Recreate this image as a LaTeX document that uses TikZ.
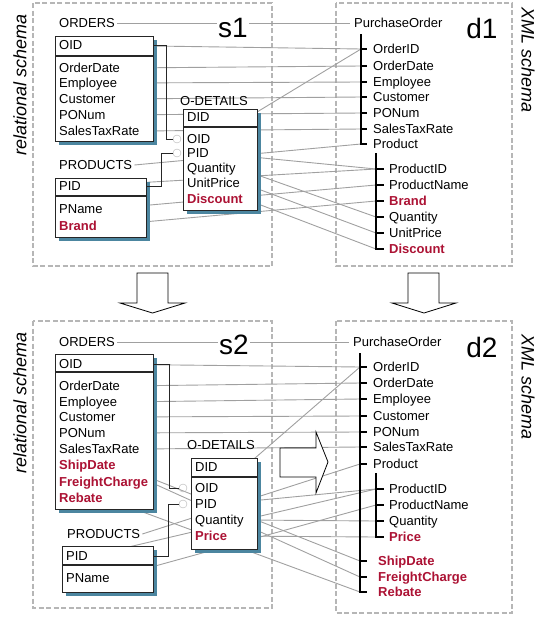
\documentclass[tikz,border=0pt]{standalone}
\usepackage{fontspec}
\setmainfont{Liberation Sans}
\usetikzlibrary{backgrounds}

\definecolor{shadowblue}{RGB}{76,134,160}
\definecolor{newred}{RGB}{172,18,52}
\definecolor{mapgray}{RGB}{160,160,160}
\definecolor{framegray}{RGB}{182,182,182}
\newcommand{\fsz}{\fontsize{13}{15}\selectfont}

\tikzset{
  fld/.style={anchor=west, inner xsep=2pt, inner ysep=1pt, text height=9.5pt, text depth=0pt, font=\fsz},
  newfld/.style={fld, font=\fsz\bfseries, text=newred},
  leaf/.style={fld, inner xsep=#1}, leaf/.default=13pt,
  newleaf/.style={newfld, inner xsep=#1}, newleaf/.default=13pt,
  tbl/.style={draw=black!85, fill=white, line width=1pt},
  tblshadow/.style={fill=shadowblue},
  divider/.style={draw=black!85, line width=1.4pt},
  map/.style={draw=mapgray, line width=0.9pt},
  fk/.style={draw=black!85, line width=0.9pt},
  fkring/.style={circle, draw=gray!60, minimum size=8pt, inner sep=0pt},
  frame/.style={draw=framegray, dash pattern=on 5pt off 2.5pt, line width=1.3pt},
  treeline/.style={line width=1.2pt},
  bigarrow/.style={draw=black, fill=white, line width=0.8pt},
  schemalbl/.style={font=\fontsize{18}{20}\selectfont\itshape},
  biglbl/.style={font=\fontsize{28}{30}\selectfont, fill=white, inner sep=1pt}
}

\begin{document}
\begin{tikzpicture}[x=1pt,y=-1pt]
  \useasboundingbox (0,0) rectangle (535,619);

  % upper half: s1 and d1
  \node[schemalbl, rotate=90] (rel1) at (20,85) {relational schema};
  \node[schemalbl, rotate=-90] (xml1) at (528,60) {XML schema};
  \node[biglbl] (s1) at (233,28) {s1};
  \node[biglbl] (d1) at (482,28) {d1};

  \node[fld] (o1) at (57,23) {ORDERS};
  \coordinate (o1se) at (153,141);
  \node[fld] (o1oid) at (57,45) {OID};
  \node[fld] (o1odate) at (57,68) {OrderDate};
  \node[fld] (o1emp) at (57,83) {Employee};
  \node[fld] (o1cust) at (57,99) {Customer};
  \node[fld] (o1po) at (57,115) {PONum};
  \node[fld] (o1tax) at (57,131) {SalesTaxRate};

  \node[fld] (od1) at (178,101) {O-DETAILS};
  \node[fld] (od1did) at (185,117) {DID};
  \node[fld] (od1oid) at (185,139) {OID};
  \node[fld] (od1pid) at (185,153) {PID};
  \node[fld] (od1qty) at (185,168) {Quantity};
  \node[fld] (od1up) at (185,183) {UnitPrice};
  \node[newfld] (od1disc) at (185,199) {Discount};
  \node[fkring] (r1oid) at (177,139) {};
  \node[fkring] (r1pid) at (177,153) {};

  \node[fld] (p1) at (57,165) {PRODUCTS};
  \coordinate (p1se) at (146,237);
  \node[fld] (p1pid) at (57,186) {PID};
  \node[fld] (p1pname) at (57,209) {PName};
  \node[newfld] (p1brand) at (57,226) {Brand};

  \node[fld, inner xsep=4pt] (po1) at (350,23) {PurchaseOrder};
  \coordinate (x1top) at (361,34);
  \node[leaf=12pt] (x1oid) at (361,49) {OrderID};
  \node[leaf=12pt] (x1odate) at (361,66) {OrderDate};
  \node[leaf=12pt] (x1emp) at (361,82) {Employee};
  \node[leaf=12pt] (x1cust) at (361,97) {Customer};
  \node[leaf=12pt] (x1po) at (361,113) {PONum};
  \node[leaf=12pt] (x1tax) at (361,129) {SalesTaxRate};
  \node[leaf=12pt] (x1prod) at (361,144) {Product};
  \coordinate (x1sub) at (376,153);
  \node[leaf] (x1pid) at (376,169) {ProductID};
  \node[leaf] (x1pname) at (376,185) {ProductName};
  \node[newleaf] (x1brand) at (376,201) {Brand};
  \node[leaf] (x1qty) at (376,217) {Quantity};
  \node[leaf] (x1up) at (376,233) {UnitPrice};
  \node[newleaf] (x1disc) at (376,249) {Discount};

  % lower half: s2 and d2
  \node[schemalbl, rotate=90] (rel2) at (20,403) {relational schema};
  \node[schemalbl, rotate=-90] (xml2) at (528,387) {XML schema};
  \node[biglbl] (s2) at (234,345) {s2};
  \node[biglbl] (d2) at (482,347) {d2};

  \node[fld] (o2) at (57,342) {ORDERS};
  \coordinate (o2se) at (153,509);
  \node[fld] (o2oid) at (57,364) {OID};
  \node[fld] (o2odate) at (57,386) {OrderDate};
  \node[fld] (o2emp) at (57,402) {Employee};
  \node[fld] (o2cust) at (57,417) {Customer};
  \node[fld] (o2po) at (57,433) {PONum};
  \node[fld] (o2tax) at (57,449) {SalesTaxRate};
  \node[newfld] (o2ship) at (57,465) {ShipDate};
  \node[newfld] (o2freight) at (57,482) {FreightCharge};
  \node[newfld] (o2rebate) at (57,498) {Rebate};

  \node[fld] (od2) at (185,445) {O-DETAILS};
  \node[fld] (od2did) at (193,467) {DID};
  \node[fld] (od2oid) at (193,488) {OID};
  \node[fld] (od2pid) at (193,504) {PID};
  \node[fld] (od2qty) at (193,520) {Quantity};
  \node[newfld] (od2price) at (193,536) {Price};
  \node[fkring] (r2oid) at (183,488) {};
  \node[fkring] (r2pid) at (183,504) {};

  \node[fld] (p2) at (65,534) {PRODUCTS};
  \coordinate (p2se) at (153,592);
  \node[fld] (p2pid) at (64,556) {PID};
  \node[fld] (p2pname) at (64,578) {PName};

  \node[fld, inner xsep=4pt] (po2) at (349,342) {PurchaseOrder};
  \coordinate (x2top) at (360,353);
  \node[leaf] (x2oid) at (360,367) {OrderID};
  \node[leaf] (x2odate) at (360,383) {OrderDate};
  \node[leaf] (x2emp) at (360,399) {Employee};
  \node[leaf] (x2cust) at (360,416) {Customer};
  \node[leaf] (x2po) at (360,432) {PONum};
  \node[leaf] (x2tax) at (360,447) {SalesTaxRate};
  \node[leaf] (x2prod) at (360,464) {Product};
  \coordinate (x2sub) at (376,473);
  \node[leaf] (x2pid) at (376,489) {ProductID};
  \node[leaf] (x2pname) at (376,505) {ProductName};
  \node[leaf] (x2qty) at (376,521) {Quantity};
  \node[newleaf] (x2price) at (376,537) {Price};
  \node[newleaf=18pt] (x2ship) at (360,561) {ShipDate};
  \node[newleaf=18pt] (x2freight) at (360,577) {FreightCharge};
  \node[newleaf=18pt] (x2rebate) at (360,592) {Rebate};

  \begin{scope}[on background layer]
    \draw[frame] (33,3) rectangle (272,266);
    \draw[frame] (336,3) rectangle (512,266);
    \draw[frame] (33,321) rectangle (272,608);
    \draw[frame] (336,321) rectangle (512,613);

    % mappings s1 -> d1
    \draw[map] (o1.east) -- (po1.west);
    \draw[map] (o1oid.east) -- (x1oid.west);
    \draw[map] (o1odate.east) -- (x1odate.west);
    \draw[map] (o1emp.east) -- (x1emp.west);
    \draw[map] (o1cust.east) -- (x1cust.west);
    \draw[map] (o1po.east) -- (x1po.west);
    \draw[map] (o1tax.east) -- (x1tax.west);
    \draw[map] (od1oid.east) -- (x1oid.west);
    \draw[map] (p1.east) -- (x1prod.west);
    \draw[map] (od1pid.east) -- (x1pid.west);
    \draw[map] (p1pid.east) -- (x1pid.west);
    \draw[map] (p1pname.east) -- (x1pname.west);
    \draw[map] (p1brand.east) -- (x1brand.west);
    \draw[map] (od1qty.east) -- (x1qty.west);
    \draw[map] (od1up.east) -- (x1up.west);
    \draw[map] (od1disc.east) -- (x1disc.west);

    % mappings s2 -> d2
    \draw[map] (o2.east) -- (po2.west);
    \draw[map] (o2oid.east) -- (x2oid.west);
    \draw[map] (o2odate.east) -- (x2odate.west);
    \draw[map] (o2emp.east) -- (x2emp.west);
    \draw[map] (o2cust.east) -- (x2cust.west);
    \draw[map] (o2po.east) -- (x2po.west);
    \draw[map] (o2tax.east) -- (x2tax.west);
    \draw[map] (od2oid.east) -- (x2oid.west);
    \draw[map] (p2.east) -- (x2prod.west);
    \draw[map] (od2pid.east) -- (x2pid.west);
    \draw[map] (p2pid.east) -- (x2pid.west);
    \draw[map] (p2pname.east) -- (x2pname.west);
    \draw[map] (od2qty.east) -- (x2qty.west);
    \draw[map] (od2price.east) -- (x2price.west);
    \draw[map] (o2ship.east) -- (x2ship.west);
    \draw[map] (o2freight.east) -- (x2freight.west);
    \draw[map] (o2rebate.east) -- (x2rebate.west);

    % tables
    \fill[tblshadow] (59,40) rectangle (157,145);
    \draw[tbl] (55,36) rectangle (o1se);
    \draw[divider] (55,56) -- (153,56);
    \fill[tblshadow] (187,113) rectangle (261,214);
    \draw[tbl] (183,109) rectangle (257,210);
    \draw[divider] (183,127) -- (257,127);
    \fill[tblshadow] (59,182) rectangle (150,241);
    \draw[tbl] (55,178) rectangle (p1se);
    \draw[divider] (55,196) -- (146,196);

    \fill[tblshadow] (59,358) rectangle (157,513);
    \draw[tbl] (55,354) rectangle (o2se);
    \draw[divider] (55,372) -- (153,372);
    \fill[tblshadow] (195,462) rectangle (261,553);
    \draw[tbl] (191,458) rectangle (257,549);
    \draw[divider] (191,477) -- (257,477);
    \fill[tblshadow] (66,550) rectangle (157,596);
    \draw[tbl] (62,546) rectangle (p2se);
    \draw[divider] (62,565) -- (153,565);
  \end{scope}

  % foreign keys
  \draw[fk] (o1oid -| o1se) -- ++(13,0) |- (r1oid.west);
  \draw[fk] (p1pid -| p1se) -- ++(15,0) |- (r1pid.west);
  \draw[fk] (o2oid -| o2se) -- ++(16,0) |- (r2oid.west);
  \draw[fk] (p2pid -| p2se) -- ++(15,0) |- (r2pid.west);

  % xml trees
  \draw[treeline] (x1top) -- (x1prod.west) -- ++(6,0)
    (x1oid.west) -- ++(6,0) (x1odate.west) -- ++(6,0) (x1emp.west) -- ++(6,0)
    (x1cust.west) -- ++(6,0) (x1po.west) -- ++(6,0) (x1tax.west) -- ++(6,0);
  \draw[treeline] (x1sub) -- (x1disc.west) -- ++(8,0)
    (x1pid.west) -- ++(8,0) (x1pname.west) -- ++(8,0) (x1brand.west) -- ++(8,0)
    (x1qty.west) -- ++(8,0) (x1up.west) -- ++(8,0);
  \draw[treeline] (x2top) -- (x2rebate.west) -- ++(7,0)
    (x2oid.west) -- ++(7,0) (x2odate.west) -- ++(7,0) (x2emp.west) -- ++(7,0)
    (x2cust.west) -- ++(7,0) (x2po.west) -- ++(7,0) (x2tax.west) -- ++(7,0)
    (x2prod.west) -- ++(7,0) (x2ship.west) -- ++(7,0) (x2freight.west) -- ++(7,0);
  \draw[treeline] (x2sub) -- (x2price.west) -- ++(8,0)
    (x2pid.west) -- ++(8,0) (x2pname.west) -- ++(8,0) (x2qty.west) -- ++(8,0);

  % evolution arrows
  \draw[bigarrow] (137,273) -- (168,273) -- (168,303) -- (185,303) -- (152.5,313)
    -- (120,303) -- (137,303) -- cycle;
  \draw[bigarrow] (408,273) -- (439,273) -- (439,303) -- (456,303) -- (424,313)
    -- (392,303) -- (408,303) -- cycle;
  \draw[bigarrow] (280,448) -- (316,448) -- (316,432) -- (328,462) -- (316,493)
    -- (316,477) -- (280,477) -- cycle;
\end{tikzpicture}
\end{document}
